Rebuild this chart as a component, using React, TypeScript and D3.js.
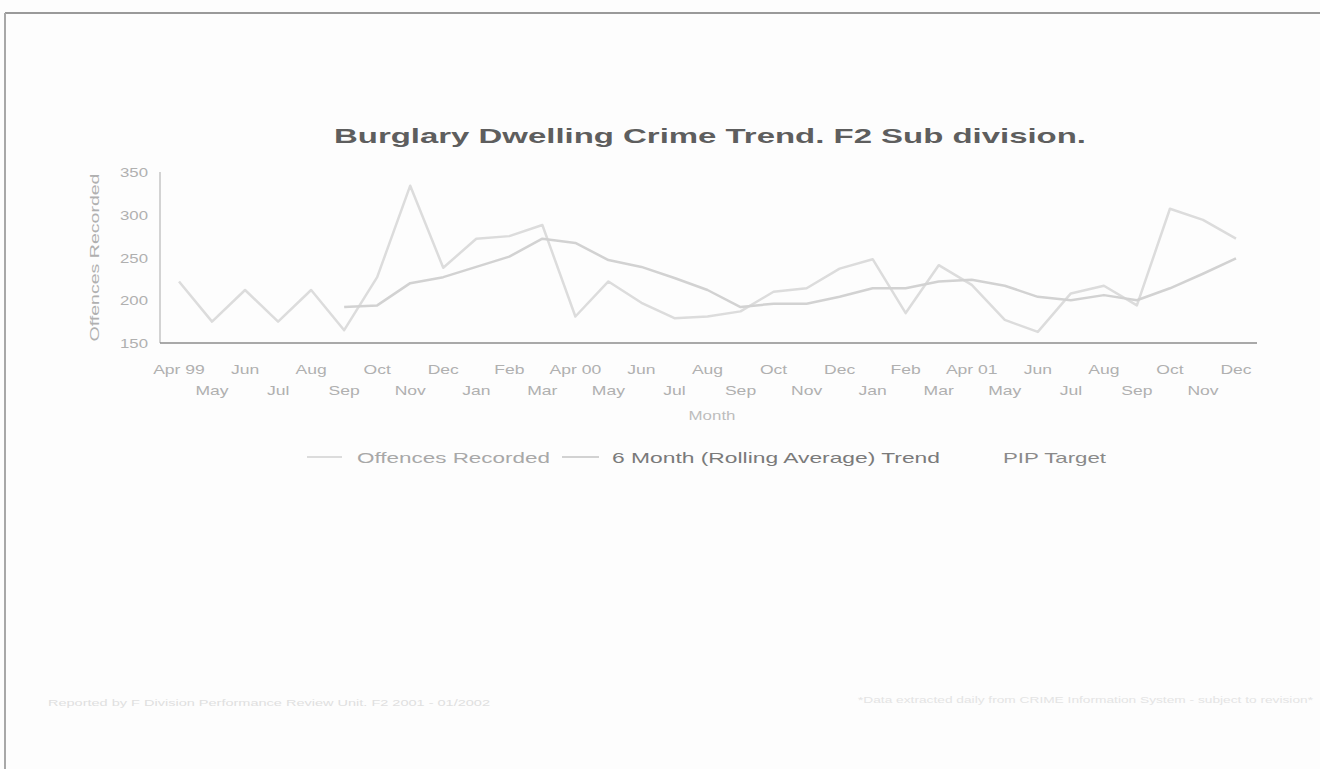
import React from "react";
import * as d3 from "d3";

const months = [
  "1999-04","1999-05","1999-06","1999-07","1999-08","1999-09","1999-10","1999-11","1999-12",
  "2000-01","2000-02","2000-03","2000-04","2000-05","2000-06","2000-07","2000-08","2000-09","2000-10","2000-11","2000-12",
  "2001-01","2001-02","2001-03","2001-04","2001-05","2001-06","2001-07","2001-08","2001-09","2001-10","2001-11","2001-12",
];
const monthLabels = [
  "Apr 99","May","Jun","Jul","Aug","Sep","Oct","Nov","Dec",
  "Jan","Feb","Mar","Apr 00","May","Jun","Jul","Aug","Sep","Oct","Nov","Dec",
  "Jan","Feb","Mar","Apr 01","May","Jun","Jul","Aug","Sep","Oct","Nov","Dec",
];
const offences = [
  222,175,212,175,212,165,227,334,238,
  272,275,288,181,222,197,179,181,187,210,214,237,
  248,185,241,218,177,163,208,217,194,307,294,272,
];
// 6 month rolling average starts at Sep 99
const trendStart = 5;
const trend = [
  192,194,220,227,
  239,251,272,267,247,239,226,212,192,196,196,204,
  214,214,222,224,217,204,200,206,200,214,231,249,
];
const yTicks = [150, 200, 250, 300, 350];

const W = 1320, H = 769;

export default function App() {
  const x = d3.scalePoint<string>().domain(months).range([179, 1236]);
  const y = d3.scaleLinear().domain([150, 350]).range([343, 172]);

  const offLine = d3.line<number>()
    .x((_, i) => x(months[i]) as number)
    .y((d) => y(d));
  const trendLine = d3.line<number>()
    .x((_, i) => x(months[i + trendStart]) as number)
    .y((d) => y(d));

  const font = "'Liberation Sans', Arial, sans-serif";

  return (
    <svg width={W} height={H} style={{ position: "absolute", left: 0, top: 0, background: "#fdfdfd" }} fontFamily={font}>
      <rect x={0} y={0} width={W} height={H} fill="#fdfdfd" />
      {/* frame */}
      <line x1={5} y1={13} x2={W} y2={13} stroke="#9a9a9a" strokeWidth={2} />
      <line x1={5} y1={13} x2={5} y2={H} stroke="#a8a8a8" strokeWidth={2} />

      {/* title */}
      <text x={710} y={143} textAnchor="middle" fontSize={21} fontWeight="bold" fill="#5e5e5e" textLength={752} lengthAdjust="spacingAndGlyphs">
        Burglary Dwelling Crime Trend. F2 Sub division.
      </text>

      {/* axes */}
      <line x1={160} y1={y(350)} x2={160} y2={y(150)} stroke="#c4c4c4" strokeWidth={1.5} />
      <line x1={160} y1={y(150)} x2={1257} y2={y(150)} stroke="#8c8c8c" strokeWidth={1.5} />

      {yTicks.map((t) => (
        <text key={t} x={148} y={y(t) + 5} textAnchor="end" fontSize={13} fill="#b0b0b0" textLength={28} lengthAdjust="spacingAndGlyphs">
          {t}
        </text>
      ))}
      <text transform={`translate(99,${(y(150) + y(350)) / 2}) rotate(-90)`} textAnchor="middle" fontSize={13} fill="#b0b0b0" textLength={168} lengthAdjust="spacingAndGlyphs">
        Offences Recorded
      </text>

      {months.map((m, i) => (
        <text
          key={m}
          transform={`translate(${x(m)},${i % 2 === 0 ? 374 : 395}) scale(1.35,1)`}
          textAnchor="middle"
          fontSize={13}
          fill="#b0b0b0"
        >
          {monthLabels[i]}
        </text>
      ))}
      <text transform="translate(712,420) scale(1.3,1)" textAnchor="middle" fontSize={13} fill="#bdbdbd">Month</text>

      {/* series */}
      <path d={offLine(offences) || ""} fill="none" stroke="#dcdcdc" strokeWidth={2.5} strokeLinejoin="round" />
      <path d={trendLine(trend) || ""} fill="none" stroke="#d2d2d2" strokeWidth={2.5} strokeLinejoin="round" />

      {/* legend */}
      <line x1={307} y1={457} x2={342} y2={457} stroke="#dcdcdc" strokeWidth={2} />
      <text x={357} y={463} fontSize={15} fill="#a8a8a8" textLength={193} lengthAdjust="spacingAndGlyphs">Offences Recorded</text>
      <line x1={562} y1={457} x2={599} y2={457} stroke="#d2d2d2" strokeWidth={2} />
      <text x={612} y={463} fontSize={15} fill="#7a7a7a" textLength={328} lengthAdjust="spacingAndGlyphs">6 Month (Rolling Average) Trend</text>
      <text x={1003} y={463} fontSize={15} fill="#8a8a8a" textLength={103} lengthAdjust="spacingAndGlyphs">PIP Target</text>

      {/* footer notes */}
      <text x={48} y={706} fontSize={9} fill="#e0e0e0" textLength={442} lengthAdjust="spacingAndGlyphs">
        Reported by F Division Performance Review Unit. F2 2001 - 01/2002
      </text>
      <text x={858} y={703} fontSize={9} fill="#e4e4e4" textLength={455} lengthAdjust="spacingAndGlyphs">
        *Data extracted daily from CRIME Information System - subject to revision*
      </text>
    </svg>
  );
}
